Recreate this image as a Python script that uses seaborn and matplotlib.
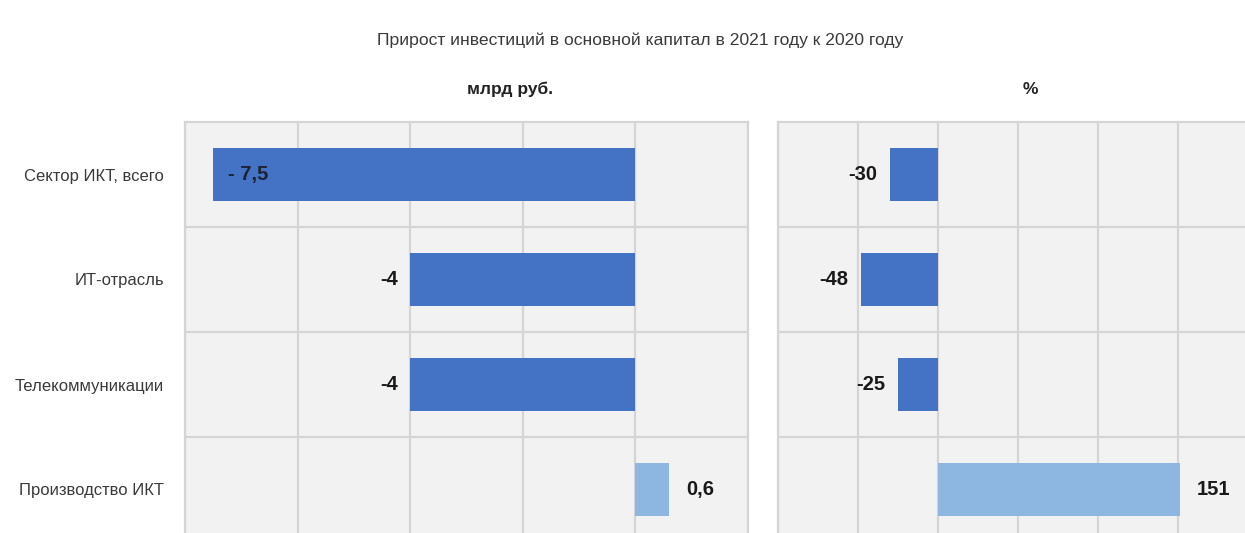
import matplotlib
matplotlib.use("Agg")
import matplotlib.pyplot as plt
import seaborn as sns
import pandas as pd
from matplotlib.ticker import MultipleLocator, FixedLocator, NullFormatter

# Data
categories = ["Сектор ИКТ, всего", "ИТ-отрасль", "Телекоммуникации", "Производство ИКТ"]
growth_bln_rub = [-7.5, -4, -4, 0.6]
growth_pct = [-30, -48, -25, 151]
bar_colors = ["#4472C4", "#4472C4", "#4472C4", "#8DB6E0"]

title = "Прирост инвестиций в основной капитал в 2021 году к 2020 году"
panel_titles = ["млрд руб.", "%"]

sns.set_style("white")
plt.rcParams["font.family"] = ["Liberation Sans", "DejaVu Sans"]

W, H = 1245, 533
fig = plt.figure(figsize=(W / 100, H / 100), dpi=100)
fig.patch.set_facecolor("white")


def axes_px(x0, y0, x1, y1):
    return fig.add_axes([x0 / W, 1 - y1 / H, (x1 - x0) / W, (y1 - y0) / H])


df = pd.DataFrame({"cat": categories, "rub": growth_bln_rub, "pct": growth_pct})

ax_l = axes_px(185, 122, 748, 542)
ax_r = axes_px(778, 122, 1258, 542)

GRID = "#d5d5d5"
VALUE_SIZE = 14.5


def fmt(v):
    return f"{v:g}".replace(".", ",")


def draw_panel(ax, col, xlim, step, inside_first=False):
    sns.barplot(data=df, x=col, y="cat", hue="cat", palette=bar_colors,
                legend=False, width=0.5, saturation=1, linewidth=0, ax=ax)
    ax.set_facecolor("#f2f2f2")
    ax.set_xlim(*xlim)
    ax.set_ylim(3.5, -0.5)
    ax.xaxis.set_major_locator(MultipleLocator(step))
    ax.xaxis.set_major_formatter(NullFormatter())
    ax.yaxis.set_minor_locator(FixedLocator([0.5, 1.5, 2.5]))
    ax.grid(axis="x", which="major", color=GRID, lw=1.6)
    ax.grid(axis="y", which="minor", color=GRID, lw=1.6)
    ax.grid(axis="y", which="major", visible=False)
    ax.set_axisbelow(True)
    ax.tick_params(axis="both", which="both", length=0)
    ax.set_xlabel("")
    ax.set_ylabel("")
    for s in ax.spines.values():
        s.set_color(GRID)
        s.set_linewidth(1.6)
    vals = df[col].tolist()
    for i, v in enumerate(vals):
        if inside_first and i == 0:
            ax.annotate("- " + fmt(abs(v)), xy=(v, i), xytext=(11, 0),
                        textcoords="offset points", ha="left", va="center",
                        fontsize=VALUE_SIZE, fontweight="bold", color="#1c2333")
        elif v < 0:
            ax.annotate(fmt(v), xy=(v, i), xytext=(-9, 0),
                        textcoords="offset points", ha="right", va="center",
                        fontsize=VALUE_SIZE, fontweight="bold", color="#1a1a1a")
        else:
            ax.annotate(fmt(v), xy=(v, i), xytext=(12, 0),
                        textcoords="offset points", ha="left", va="center",
                        fontsize=VALUE_SIZE, fontweight="bold", color="#1a1a1a")


draw_panel(ax_l, "rub", (-8, 2), 2, inside_first=True)
draw_panel(ax_r, "pct", (-100, 200), 50)

ax_l.tick_params(axis="y", pad=15, labelsize=12, labelcolor="#3a3a3a")
ax_r.set_yticklabels([])

fig.text(640 / W, 1 - 40 / H, title, ha="center", va="center",
         fontsize=12.6, color="#3a3a3a")
fig.text(510 / W, 1 - 89 / H, panel_titles[0], ha="center", va="center",
         fontsize=12.5, fontweight="bold", color="#222222")
fig.text(1030 / W, 1 - 89 / H, panel_titles[1], ha="center", va="center",
         fontsize=12.5, fontweight="bold", color="#222222")

fig.savefig("out.png", dpi=100, facecolor="white")
